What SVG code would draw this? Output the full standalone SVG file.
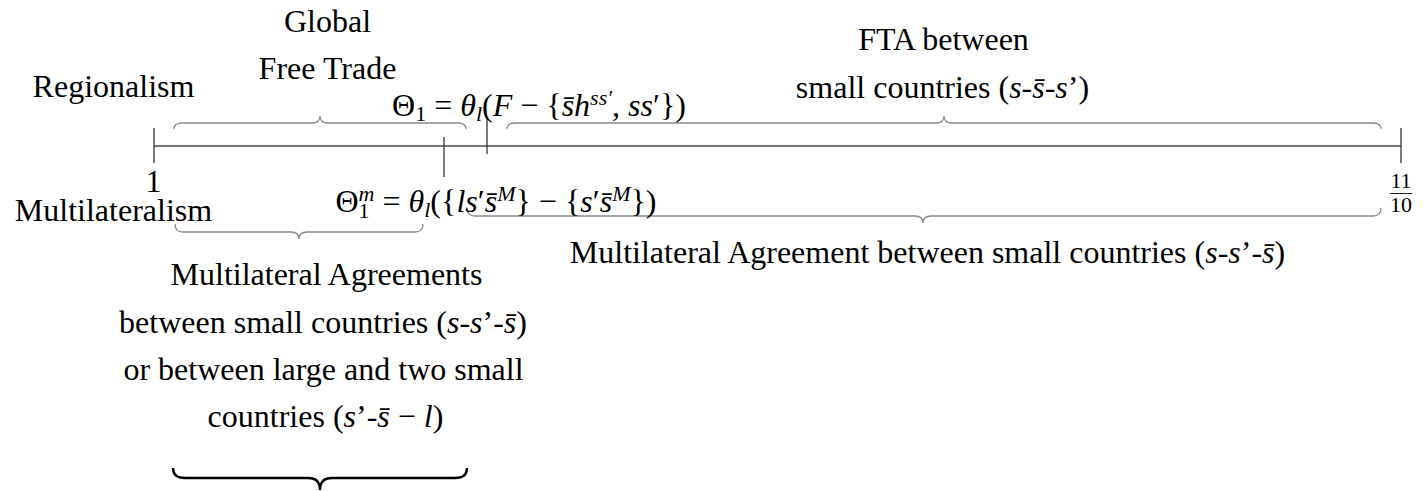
<svg xmlns="http://www.w3.org/2000/svg" width="1428" height="491" viewBox="0 0 1428 491">
<style>
.i{font-style:italic}
.s{font-size:22px}
.brace{fill:none;stroke:#8a8a8a;stroke-width:1.3}
.bbrace{fill:none;stroke:#000;stroke-width:2.4}
.axis{stroke:#4a4a4a;stroke-width:1.7}
.tick{stroke:#333;stroke-width:1.3}
</style>
<rect width="1428" height="491" fill="#fff"/>
<g id="connectors">
<line class="axis" x1="154" y1="146" x2="1401" y2="146"/>
<line class="tick" x1="154" y1="128" x2="154" y2="163"/>
<line class="tick" x1="1401" y1="128" x2="1401" y2="163"/>
<line class="tick" x1="444" y1="137" x2="444" y2="177"/>
<line class="tick" x1="487" y1="119" x2="487" y2="154"/>
<path class="brace" d="M174,129 Q174,123 182,123 L312,123 Q320,123 320,116 Q320,123 328,123 L458,123 Q466,123 466,129"/>
<path class="brace" d="M507,129 Q507,123 515,123 L936,123 Q944,123 944,116 Q944,123 952,123 L1373,123 Q1381,123 1381,129"/>
<path class="brace" d="M175,224 Q175,232 183,232 L291,232 Q299,232 299,239 Q299,232 307,232 L415,232 Q423,232 423,224"/>
<path class="brace" d="M467,208 Q467,216 475,216 L915,216 Q923,216 923,223 Q923,216 931,216 L1373,216 Q1381,216 1381,208"/>
<path class="bbrace" d="M173,468 Q173,478 185,478 L308,478 Q320,478 320,490 Q320,478 332,478 L455,478 Q467,478 467,468"/>
</g>
<g id="global-free-trade">
<text x="327.5" y="32" font-family="Liberation Serif" font-size="32" text-anchor="middle">Global</text>
<text x="327.5" y="79" font-family="Liberation Serif" font-size="32" text-anchor="middle">Free Trade</text>
</g>
<g id="regionalism">
<text x="113.5" y="97" font-family="Liberation Serif" font-size="32" text-anchor="middle">Regionalism</text>
</g>
<g id="theta1">
<text x="539" y="116" font-family="Liberation Serif" font-size="32" text-anchor="middle">Θ<tspan class="s" dy="5">1</tspan><tspan dy="-5"> = </tspan><tspan class="i">θ</tspan><tspan class="s i" dy="5">l</tspan><tspan dy="-5">(</tspan><tspan class="i">F</tspan> − {<tspan class="i">s̄h</tspan><tspan class="s i" dy="-11">ss′</tspan><tspan dy="11">, </tspan><tspan class="i">ss</tspan>′})</text>
</g>
<g id="fta">
<text x="943.5" y="50" font-family="Liberation Serif" font-size="32" text-anchor="middle">FTA between</text>
<text x="942.5" y="98" font-family="Liberation Serif" font-size="32" text-anchor="middle">small countries (<tspan class="i">s</tspan>-<tspan class="i">s̄</tspan>-<tspan class="i">s</tspan>’)</text>
</g>
<g id="label-one">
<text x="153.5" y="192" font-family="Liberation Serif" font-size="32" text-anchor="middle">1</text>
</g>
<g id="multilateralism">
<text x="113.5" y="221" font-family="Liberation Serif" font-size="32" text-anchor="middle">Multilateralism</text>
</g>
<g id="theta1m">
<text x="496" y="212" font-family="Liberation Serif" font-size="32" text-anchor="middle">Θ<tspan class="s" dy="6">1</tspan><tspan class="s i" dx="-11" dy="-17">m</tspan><tspan dy="11"> = </tspan><tspan class="i">θ</tspan><tspan class="s i" dy="5">l</tspan><tspan dy="-5">({</tspan><tspan class="i">ls</tspan>′<tspan class="i">s̄</tspan><tspan class="s i" dy="-11">M</tspan><tspan dy="11">} − {</tspan><tspan class="i">s</tspan>′<tspan class="i">s̄</tspan><tspan class="s i" dy="-11">M</tspan><tspan dy="11">})</tspan></text>
</g>
<g id="fraction">
<text x="1401" y="188" font-family="Liberation Serif" font-size="22" text-anchor="middle">11</text>
<line x1="1390" y1="193.5" x2="1412" y2="193.5" stroke="#000" stroke-width="0.9"/>
<text x="1401" y="212" font-family="Liberation Serif" font-size="22" text-anchor="middle">10</text>
</g>
<g id="multilateral-agreement">
<text x="927.5" y="263" font-family="Liberation Serif" font-size="32" text-anchor="middle">Multilateral Agreement between small countries (<tspan class="i">s</tspan>-<tspan class="i">s</tspan>’-<tspan class="i">s̄</tspan>)</text>
</g>
<g id="multilateral-agreements">
<text x="326.5" y="285" font-family="Liberation Serif" font-size="32" text-anchor="middle">Multilateral Agreements</text>
<text x="323" y="333" font-family="Liberation Serif" font-size="32" text-anchor="middle">between small countries (<tspan class="i">s</tspan>-<tspan class="i">s</tspan>’-<tspan class="i">s̄</tspan>)</text>
<text x="323.5" y="380" font-family="Liberation Serif" font-size="32" text-anchor="middle">or between large and two small</text>
<text x="325.5" y="427" font-family="Liberation Serif" font-size="32" text-anchor="middle">countries (<tspan class="i">s</tspan>’-<tspan class="i">s̄</tspan> − <tspan class="i">l</tspan>)</text>
</g>
</svg>
